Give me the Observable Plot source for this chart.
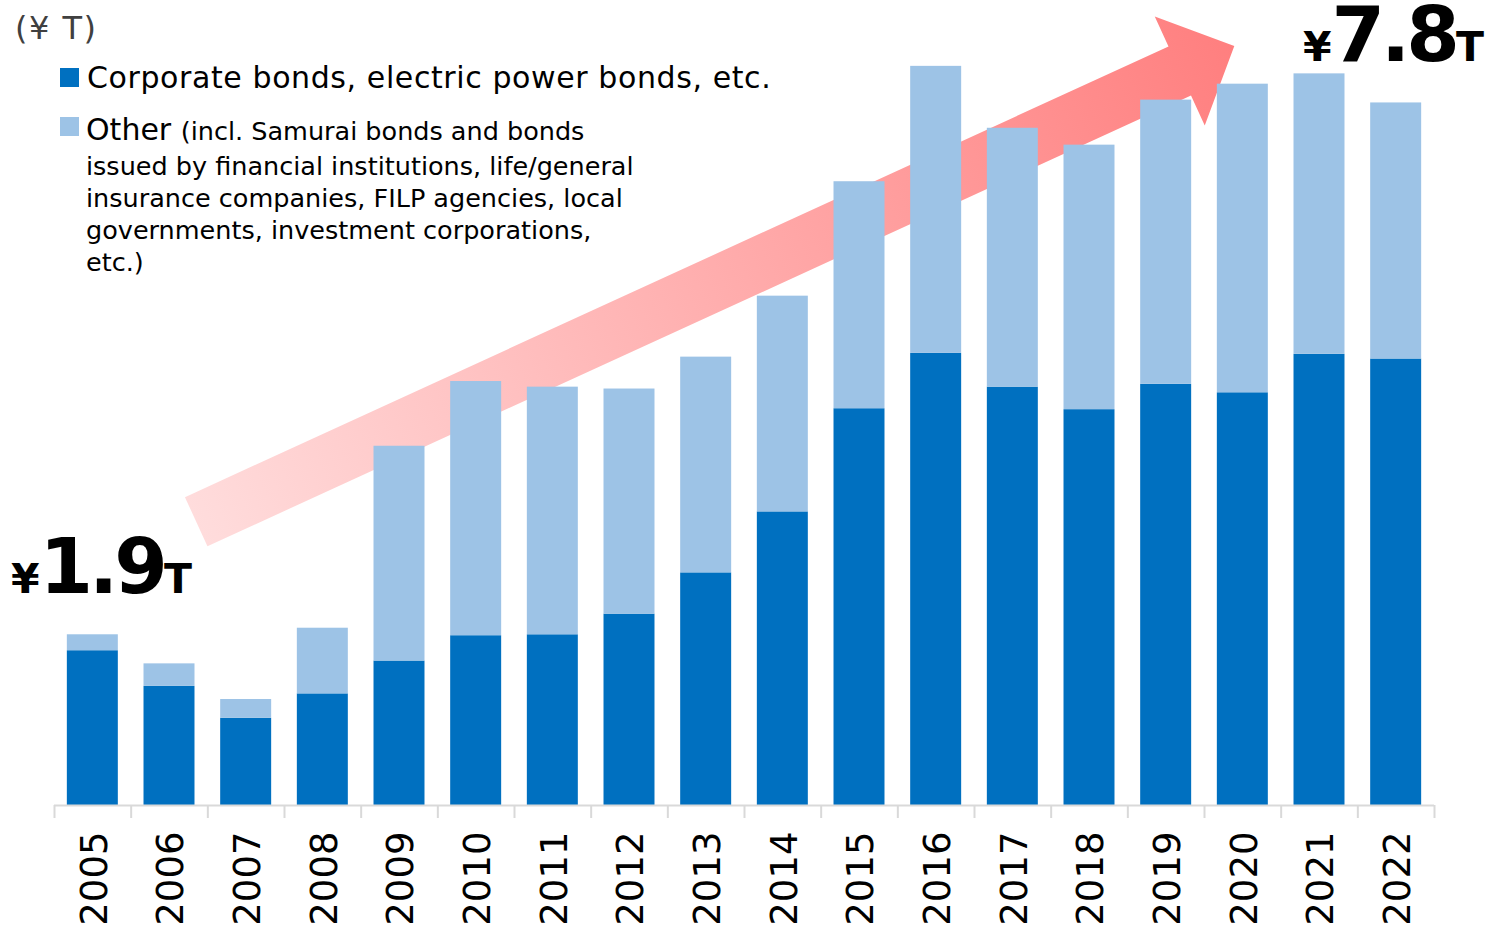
<!DOCTYPE html>
<html><head><meta charset="utf-8">
<script src="https://cdn.jsdelivr.net/npm/d3@7"></script>
<script src="https://cdn.jsdelivr.net/npm/@observablehq/plot@0.6"></script>
<style>
html,body{margin:0;padding:0;background:#fff;}
#chart{position:relative;width:1488px;height:925px;overflow:hidden;}
</style></head><body><div id="chart"></div>
<script>
// ---- data (¥ trillion) ----
const years = ["2005","2006","2007","2008","2009","2010","2011","2012","2013","2014","2015","2016","2017","2018","2019","2020","2021","2022"];
const corporate = [1.65,1.27,0.93,1.19,1.54,1.81,1.82,2.04,2.48,3.13,4.23,4.82,4.46,4.22,4.49,4.40,4.81,4.76];
const other     = [0.17,0.24,0.20,0.70,2.29,2.71,2.64,2.40,2.30,2.30,2.42,3.06,2.76,2.82,3.03,3.29,2.99,2.73];
const seriesNames = ["Corporate bonds, electric power bonds, etc.", "Other"];
const otherNote = ["(incl. Samurai bonds and bonds", "issued by financial institutions, life/general", "insurance companies, FILP agencies, local", "governments, investment corporations,", "etc.)"];
const unitLabel = "(¥ T)";
const startValueLabel = "1.9";
const endValueLabel = "7.8";
const colors = ["#0070C0", "#9DC3E6"];

const rows = [];
years.forEach((yr, i) => {
  rows.push({year: yr, series: seriesNames[0], value: corporate[i]});
  rows.push({year: yr, series: seriesNames[1], value: other[i]});
});

const W = 1488, H = 925, mL = 54, mR = 54, mB = 120;
const step = (W - mL - mR) / years.length;

// decorative growth arrow, drawn behind the bars
const arrowMark = (index, scales, values, dims) => {
  const g = d3.create("svg:g");
  const T = [196.2, 521.7], P = [1234.3, 46];
  const L = Math.hypot(P[0]-T[0], P[1]-T[1]);
  const u = [(P[0]-T[0])/L, (P[1]-T[1])/L];
  const n = [-u[1], u[0]];
  const w = 27, hl = 60, hw = 60;
  const B = [P[0]-u[0]*hl, P[1]-u[1]*hl];
  const pt = (o, k) => [o[0]+n[0]*k, o[1]+n[1]*k];
  const pts = [pt(T, w), pt(T, -w), pt(B, -w), pt(B, -hw), P, pt(B, hw), pt(B, w)];
  const grad = g.append("defs").append("linearGradient")
    .attr("id", "arrowGrad").attr("gradientUnits", "userSpaceOnUse")
    .attr("x1", T[0]).attr("y1", T[1]).attr("x2", P[0]).attr("y2", P[1]);
  grad.append("stop").attr("offset", 0).attr("stop-color", "#FFDCDC");
  grad.append("stop").attr("offset", 1).attr("stop-color", "#FF7F7F");
  g.append("polygon").attr("points", pts.map(p => p.join(",")).join(" ")).attr("fill", "url(#arrowGrad)");
  return g.node();
};

const chart = Plot.plot({
  width: W, height: H,
  marginTop: 0, marginBottom: mB, marginLeft: mL, marginRight: mR,
  x: {type: "band", domain: years, paddingInner: 0.335, paddingOuter: 0.1675, round: false, axis: null},
  y: {domain: [0, 805 / 93.8], axis: null},
  color: {domain: seriesNames, range: colors},
  style: {background: "transparent", fontFamily: "DejaVu Sans", overflow: "visible"},
  marks: [
    arrowMark,
    Plot.barY(rows, {x: "year", y: "value", fill: "series"}),
    Plot.ruleY([0], {stroke: "#d9d9d9", strokeWidth: 2}),
    Plot.axisX({ticks: years, tickSize: 13, tickFormat: () => "", label: null, dx: -step/2, color: "#d9d9d9", strokeWidth: 2}),
    Plot.axisX({ticks: [years[years.length-1]], tickSize: 13, tickFormat: () => "", label: null, dx: step/2, color: "#d9d9d9", strokeWidth: 2}),
    Plot.text(years, {x: d => d, text: d => d, frameAnchor: "bottom", rotate: -90, textAnchor: "end", lineAnchor: "middle", dy: 26, dx: 2, fontSize: 37, fill: "#000", fontFamily: "DejaVu Sans"})
  ]
});

document.getElementById("chart").appendChild(chart);
const svg = d3.select(chart);
const txt = (x, y) => svg.append("text").attr("x", x).attr("y", y).attr("text-anchor", "start").attr("font-family", "DejaVu Sans");

// unit label
txt(15, 39).attr("font-size", 32).attr("letter-spacing", "1.5px").attr("fill", "#404040").text(unitLabel);

// legend
svg.append("rect").attr("x", 60).attr("y", 68).attr("width", 19).attr("height", 19).attr("fill", colors[0]);
txt(87, 88).attr("font-size", 30).attr("letter-spacing", "0.6px").attr("fill", "#000").text(seriesNames[0]);
svg.append("rect").attr("x", 60).attr("y", 117).attr("width", 19).attr("height", 19).attr("fill", colors[1]);
const t2 = txt(86, 140).attr("fill", "#000");
t2.append("tspan").attr("font-size", 30).text(seriesNames[1] + " ");
t2.append("tspan").attr("font-size", 25.5).text(otherNote[0]);
otherNote.slice(1).forEach((line, i) => {
  txt(86, 175 + i*32).attr("font-size", 25.5).attr("fill", "#000").text(line);
});

// value callouts
function callout(x, y, val) {
  const t = txt(x, y).attr("font-weight", "bold").attr("fill", "#000");
  t.append("tspan").attr("font-size", 41).text("¥");
  t.append("tspan").attr("font-size", 77).attr("letter-spacing", "-4px").text(val);
  t.append("tspan").attr("font-size", 41).text("T");
}
callout(11, 593, startValueLabel);
callout(1303, 61, endValueLabel);
</script></body></html>
